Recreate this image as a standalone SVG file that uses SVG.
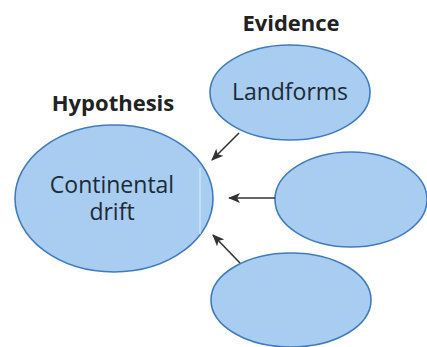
<svg xmlns="http://www.w3.org/2000/svg" width="427" height="347" viewBox="0 0 427 347">
<style>
.node{fill:#a9cdf0;stroke:#3f7cbf;stroke-width:1.6}
.lbl{font-family:"Open Sans","Noto Sans",sans-serif;font-size:23px;fill:#1c2a36;text-anchor:middle}
.hdr{font-family:"Open Sans","Noto Sans",sans-serif;font-size:22px;font-weight:bold;fill:#222;text-anchor:middle}
.edge{stroke:#333;stroke-width:1.6;fill:none;marker-end:url(#ah)}
</style>
<defs>
<marker id="ah" viewBox="0 0 12 10" refX="11" refY="5" markerWidth="12" markerHeight="10" markerUnits="userSpaceOnUse" orient="auto">
<path d="M0,0 L12,5 L0,10 L3,5 Z" fill="#333"/>
</marker>
</defs>
<rect width="427" height="347" fill="#fff"/>
<text class="hdr" x="291" y="31">Evidence</text>
<text class="hdr" x="113" y="111">Hypothesis</text>
<g id="hypothesis">
<ellipse class="node" cx="114" cy="198.5" rx="99" ry="73.5"/>
<line x1="200" y1="168" x2="200" y2="234" stroke="#d6ebfb" stroke-width="1.2"/>
<text class="lbl" x="112" y="193">Continental</text>
<text class="lbl" x="112" y="220">drift</text>
</g>
<g id="landforms">
<ellipse class="node" cx="290" cy="92.5" rx="80" ry="47.5"/>
<text class="lbl" x="290" y="100">Landforms</text>
</g>
<g id="evidence2">
<ellipse class="node" cx="351" cy="199.5" rx="76" ry="47.5"/>
</g>
<g id="evidence3">
<ellipse class="node" cx="291" cy="300" rx="80" ry="47"/>
</g>
<g id="connectors">
<line class="edge" x1="239" y1="133" x2="212" y2="160"/>
<line class="edge" x1="275" y1="198" x2="229" y2="198"/>
<line class="edge" x1="240" y1="263" x2="213" y2="235"/>
</g>
</svg>
